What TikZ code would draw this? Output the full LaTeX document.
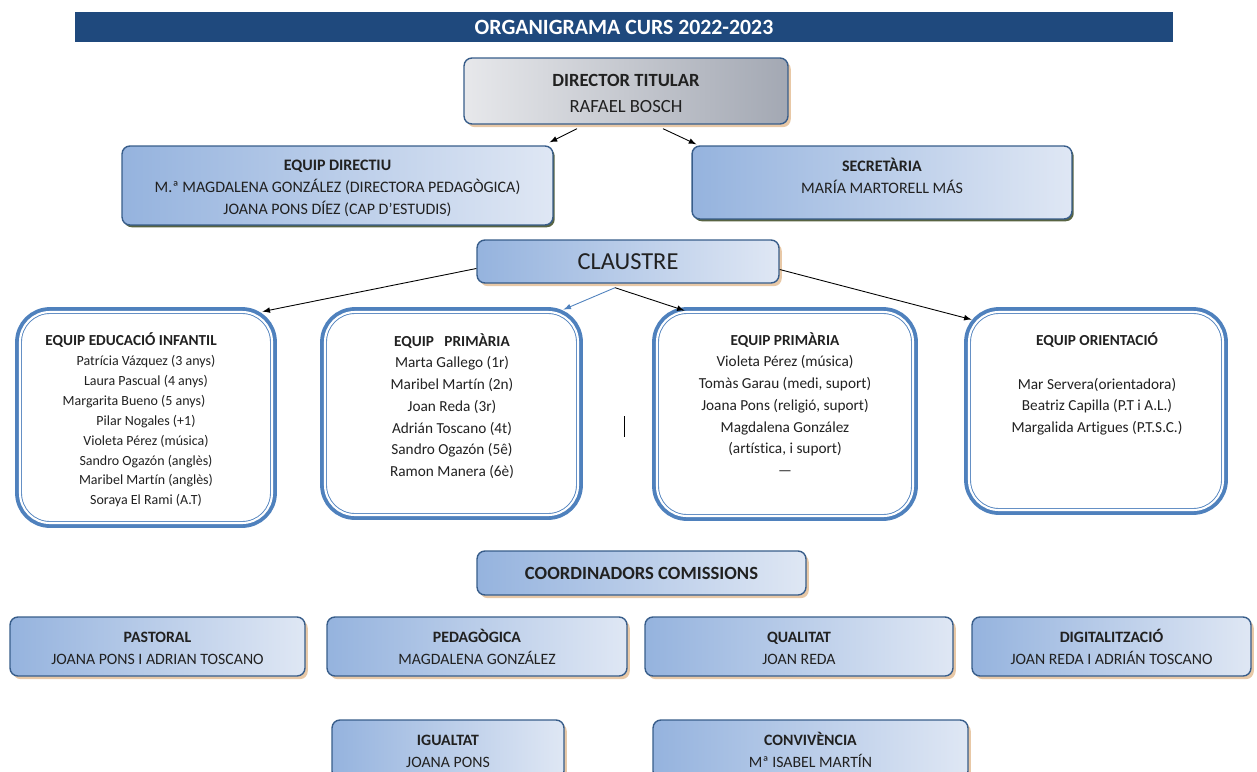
\documentclass[tikz,border=0pt]{standalone}
\usepackage{fontspec}
\setmainfont{Carlito}[Ligatures={TeX,NoCommon}]
\usetikzlibrary{calc,shadows}
\definecolor{titleblue}{RGB}{31,73,125}
\definecolor{edgeblue}{RGB}{56,93,138}
\definecolor{teamblue}{RGB}{79,129,189}
\definecolor{boxleft}{RGB}{149,179,222}
\definecolor{boxright}{RGB}{223,231,244}
\definecolor{greyleft}{RGB}{231,232,235}
\definecolor{greyright}{RGB}{163,168,179}
\definecolor{shadowtan}{RGB}{232,200,166}
\definecolor{shadowdark}{RGB}{88,100,66}
\definecolor{textgrey}{RGB}{33,33,33}
\tikzset{
  orgbox/.style={draw=edgeblue, line width=0.8pt, rounded corners=4.5pt, align=center, text=textgrey, inner sep=0pt},
  bluefill/.style={left color=boxleft, right color=boxright},
  tanshadow/.style={drop shadow={shadow xshift=1.6pt, shadow yshift=-1.8pt, fill=shadowtan, opacity=1}},
  darkshadow/.style={drop shadow={shadow xshift=1pt, shadow yshift=-1.3pt, fill=shadowdark, opacity=1}},
  teambox/.style={preaction={draw=teamblue, line width=5.6pt}, fill=white, draw=teamblue, line width=0.5pt, double=white, double distance=1.2pt, rounded corners=17pt},
  teamtext/.style={align=center, text=textgrey, inner sep=0pt, font=\fontsize{8.7}{12.4}\selectfont},
  combox/.style={orgbox, bluefill, tanshadow, minimum height=1.18cm, font=\fontsize{9}{12.5}\selectfont}
}
\begin{document}
\begin{tikzpicture}[>=latex, x=0.02cm, y=-0.02cm]
\useasboundingbox (0,0) rectangle (1257,771);
\node (title) at (624,27) [fill=titleblue, text=white, minimum width=21.96cm, minimum height=0.6cm, inner sep=0pt, font=\fontsize{12.4}{14}\selectfont\bfseries] {ORGANIGRAMA CURS 2022-2023};
\node (dir) at (626,91) [orgbox, left color=greyleft, right color=greyright, tanshadow, minimum width=6.48cm, minimum height=1.32cm, font=\fontsize{10.6}{14.8}\selectfont] {\rule{0pt}{13.8pt}\textbf{DIRECTOR TITULAR}\\RAFAEL BOSCH\strut};
\node (edir) at (337.5,185.5) [orgbox, bluefill, darkshadow, minimum width=8.62cm, minimum height=1.58cm, font=\fontsize{9.1}{12.5}\selectfont] {\rule{0pt}{12.2pt}\textbf{EQUIP DIRECTIU}\\M.ª MAGDALENA GONZÁLEZ (DIRECTORA PEDAGÒGICA)\\JOANA PONS DÍEZ (CAP D’ESTUDIS)\strut};
\node (secr) at (882,182.5) [orgbox, bluefill, darkshadow, minimum width=7.6cm, minimum height=1.46cm, font=\fontsize{9.1}{12.5}\selectfont] {\strut\textbf{SECRETÀRIA}\\MARÍA MARTORELL MÁS\rule[-9.2pt]{0pt}{0pt}};
\node (claustre) at (628,261.5) [orgbox, bluefill, tanshadow, minimum width=6.04cm, minimum height=0.86cm, font=\fontsize{13.9}{16}\selectfont] {CLAUSTRE};
\node (inf) at (146,417.5) [teambox, minimum width=5.04cm, minimum height=4.22cm] {};
\node (prim1) at (451.5,413.5) [teambox, minimum width=5.06cm, minimum height=4.06cm] {};
\node (prim2) at (785,414) [teambox, minimum width=5.12cm, minimum height=4.08cm] {};
\node (ori) at (1096,411) [teambox, minimum width=5.08cm, minimum height=3.96cm] {};
\node (infT) at (146,420) [teamtext, font=\fontsize{7.95}{11.3}\selectfont] {\hspace*{-17pt}\textbf{\fontsize{8.7}{11.3}\selectfont EQUIP EDUCACIÓ INFANTIL}\\Patrícia Vázquez (3 anys)\\Laura Pascual (4 anys)\\\hspace*{-13.6pt}Margarita Bueno (5 anys)\\Pilar Nogales (+1)\\Violeta Pérez (música)\\Sandro Ogazón (anglès)\\Maribel Martín (anglès)\\Soraya El Rami (A.T)};
\node (prim1T) at (452,406) [teamtext] {\textbf{EQUIP~~~PRIMÀRIA}\\Marta Gallego (1r)\\Maribel Martín (2n)\\Joan Reda (3r)\\Adrián Toscano (4t)\\Sandro Ogazón (5ê)\\Ramon Manera (6è)};
\node (prim2T) at (785,404) [teamtext] {\textbf{EQUIP PRIMÀRIA}\\Violeta Pérez (música)\\Tomàs Garau (medi, suport)\\Joana Pons (religió, suport)\\Magdalena González\\(artística, i suport)\\\textemdash};
\node (oriT) at (1097,384) [teamtext] {\textbf{EQUIP ORIENTACIÓ}\\[12.4pt]Mar Servera(orientadora)\\Beatriz Capilla (P.T i A.L.)\\Margalida Artigues (P.T.S.C.)};
\node (coord) at (641.5,573) [orgbox, bluefill, tanshadow, minimum width=6.58cm, minimum height=0.88cm, font=\fontsize{10.6}{13}\selectfont\bfseries] {COORDINADORS COMISSIONS};
\node (past) at (157.5,646.5) [combox, minimum width=5.9cm] {\rule{0pt}{11.5pt}\textbf{PASTORAL}\\JOANA PONS I ADRIAN TOSCANO\strut};
\node (peda) at (477,646.5) [combox, minimum width=6cm] {\rule{0pt}{11.5pt}\textbf{PEDAGÒGICA}\\MAGDALENA GONZÁLEZ\strut};
\node (qual) at (799,646.5) [combox, minimum width=6.16cm] {\rule{0pt}{11.5pt}\textbf{QUALITAT}\\JOAN REDA\strut};
\node (digi) at (1111.5,646.5) [combox, minimum width=5.58cm] {\rule{0pt}{11.5pt}\textbf{DIGITALITZACIÓ}\\JOAN REDA I ADRIÁN TOSCANO\strut};
\node (igu) at (448,749.5) [combox, minimum width=4.64cm] {\rule{0pt}{11.5pt}\textbf{IGUALTAT}\\JOANA PONS\strut};
\node (conv) at (810.5,749.5) [combox, minimum width=6.3cm] {\rule{0pt}{11.5pt}\textbf{CONVIVÈNCIA}\\Mª ISABEL MARTÍN\strut};
\draw[->, line width=0.5pt] ($(dir.south)+(-49,4)$) -- ($(edir.north east)+(-4,-3)$);
\draw[->, line width=0.5pt] ($(dir.south)+(37,4)$) -- ($(secr.north west)+(5,-1)$);
\draw[->, line width=0.5pt] ($(claustre.west)+(0,7)$) -- ($(inf.north east)+(-10,0)$);
\draw[->, line width=0.5pt, teamblue] ($(claustre.south)+(-13,4)$) -- ($(prim1.north east)+(-15,-2)$);
\draw[->, line width=0.5pt] ($(claustre.south)+(-13,4)$) -- ($(prim2.north west)+(28,-1)$);
\draw[->, line width=0.5pt] ($(claustre.east)+(0,8)$) -- ($(ori.north west)+(3,8)$);
\draw[line width=0.5pt] (624,416) -- (624,437);
\end{tikzpicture}
\end{document}
